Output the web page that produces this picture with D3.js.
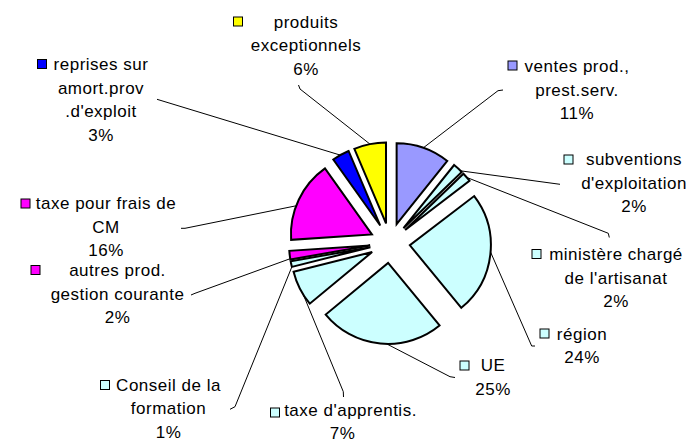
<!DOCTYPE html>
<html>
<head>
<meta charset="utf-8">
<script src="https://cdn.jsdelivr.net/npm/d3@7"></script>
<style>
  body { margin: 0; background: #fff; }
  text { font-family: "Liberation Sans", Arial, sans-serif; font-size: 17px; letter-spacing: 0.5px; fill: #000; }
</style>
</head>
<body>
<svg id="chart" width="693" height="443"></svg>
<script>
// Revenue breakdown, clockwise from 12 o'clock
const categories = [
  "ventes prod.,\nprest.serv.",
  "subventions\nd'exploitation",
  "ministère chargé\nde l'artisanat",
  "région",
  "UE",
  "taxe d'apprentis.",
  "Conseil de la\nformation",
  "autres prod.\ngestion courante",
  "taxe pour frais de\nCM",
  "reprises sur\namort.prov\n.d'exploit",
  "produits\nexceptionnels"
];
const values = [10.6, 2.0, 1.8, 24.1, 24.6, 7.0, 1.1, 1.7, 16.0, 3.4, 6.3];
const colors = ["#9999FF", "#CCFFFF", "#CCFFFF", "#CCFFFF", "#CCFFFF", "#CCFFFF",
                "#CCFFFF", "#FF00FF", "#FF00FF", "#0000FF", "#FFFF00"];

// Label placement: text centre x, first baseline y, legend key position,
// first-line shift, attach point along the slice arc (0..1), leader bends.
const labelLayout = [
  { x: 577,   y: 72,    kx: 508,   ky: 61,    dx0: 0, t: 0.5,  bends: [[498, 90.7], [503, 90]] },
  { x: 634,   y: 165,   kx: 564,   ky: 155,   dx0: 0, t: 0.85, bends: [[560, 184.3]] },
  { x: 616,   y: 260,   kx: 532,   ky: 249.5, dx0: 0, t: 0.55, bends: [[608.3, 233.3], [609.3, 237.5]] },
  { x: 582,   y: 339.5, kx: 540,   ky: 329,   dx0: 0, t: 0.48, bends: [[531.7, 346], [535, 346]] },
  { x: 493,   y: 371,   kx: 460,   ky: 361,   dx0: 0, t: 0.45, bends: [[450, 376.7], [455, 377.5]] },
  { x: 342.5, y: 415.5, kx: 270.5, ky: 408,   dx0: 8, t: 0.3,  bends: [[343.3, 391.7], [343.5, 397]] },
  { x: 168.5, y: 390.5, kx: 100.5, ky: 380.5, dx0: 0, t: 0.0,  bends: [[235, 406.7], [230, 409.3]] },
  { x: 117.5, y: 276,   kx: 31,    ky: 265.5, dx0: 0, t: 0.1,  bends: [[195, 293.3], [191, 295]] },
  { x: 106,   y: 209,   kx: 21,    ky: 199,   dx0: 0, t: 0.42, bends: [[185, 228.3], [181, 228.3]] },
  { x: 101,   y: 70,    kx: 37.5,  ky: 59.5,  dx0: 0, t: 0.47, bends: [[157, 99.3]] },
  { x: 306,   y: 27.5,  kx: 233.5, ky: 17,    dx0: 0, t: 0.5,  bends: [[300, 89], [298.5, 85]] }
];

const svg = d3.select("#chart");
const cx = 390, cy = 243, R = 81, explode = 20, lineGap = 23.6;

const total = d3.sum(values);
const pct = d3.format(".0%");
const slices = d3.pie().sort(null).value(d => d)(values);
const arc = d3.arc().innerRadius(0).outerRadius(R);

// exploded slice origin
const origin = s => {
  const m = (s.startAngle + s.endAngle) / 2;
  return [cx + explode * Math.sin(m), cy - explode * Math.cos(m)];
};

// leader lines
const leaders = svg.append("g");
slices.forEach((s, i) => {
  const L = labelLayout[i];
  const [ox, oy] = origin(s);
  const a = s.startAngle + L.t * (s.endAngle - s.startAngle);
  const start = [ox + R * Math.sin(a), oy - R * Math.cos(a)];
  leaders.append("path")
    .attr("d", d3.line()([start, ...L.bends]))
    .attr("fill", "none")
    .attr("stroke", "#000")
    .attr("stroke-width", 1);
});

// slices
svg.append("g").selectAll("path")
  .data(slices)
  .join("path")
  .attr("transform", s => `translate(${origin(s)})`)
  .attr("d", arc)
  .attr("fill", (s, i) => colors[i])
  .attr("stroke", "#000")
  .attr("stroke-width", 2)
  .attr("stroke-linejoin", "miter");

// labels with legend keys
const labels = svg.append("g");
slices.forEach((s, i) => {
  const L = labelLayout[i];
  const lines = categories[i].split("\n").concat(pct(values[i] / total));
  labels.append("rect")
    .attr("x", L.kx).attr("y", L.ky)
    .attr("width", 9).attr("height", 9)
    .attr("fill", colors[i])
    .attr("stroke", "#000").attr("stroke-width", 1);
  const t = labels.append("text").attr("text-anchor", "middle");
  lines.forEach((ln, j) => {
    t.append("tspan")
      .attr("x", L.x + (j === 0 ? L.dx0 : 0))
      .attr("y", L.y + j * lineGap)
      .text(ln);
  });
});
</script>
</body>
</html>
